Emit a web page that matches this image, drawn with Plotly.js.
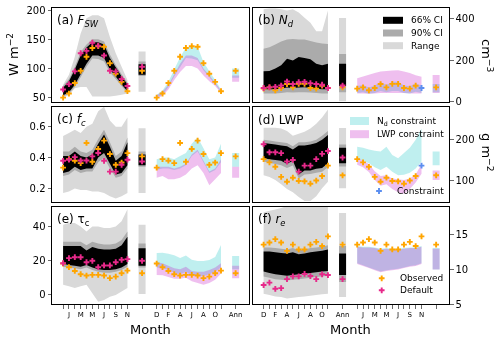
<!DOCTYPE html>
<html>
<head>
<meta charset="utf-8">
<script src="https://cdn.plot.ly/plotly-3.0.1.min.js"></script>
<style>
  html, body { margin: 0; padding: 0; background: #fff; }
  #chart { width: 500px; height: 339px; }
  #chart svg { will-change: transform; }
</style>
</head>
<body>
<div id="chart"></div>
<script>
// ---- categories ----
const monthLetters = ['D', 'J', 'F', 'M', 'A', 'M', 'J', 'J', 'A', 'S', 'O', 'N'];

// ---- (a) F_SW, W m-2 ----
const obsA = [50, 57, 75, 96, 120, 135, 138, 137, 109, 91, 77, 61];
const defA = [64, 73, 95, 126, 130, 144, 139, 122, 96, 95, 82, 70];
const ci66LoA = [54, 59, 72, 90, 108, 122, 122, 118, 98, 86, 73, 61];
const ci66HiA = [67, 78, 98, 122, 136, 145, 145, 141, 118, 102, 86, 73];
const ci90LoA = [52, 57, 68, 85, 103, 117, 116, 112, 93, 82, 70, 58];
const ci90HiA = [70, 82, 103, 128, 141, 150, 150, 146, 124, 106, 90, 76];
const rngLoA = [50, 54, 66, 68, 68, 52, 52, 52, 52, 53, 55, 57];
const rngHiA = [72, 89, 120, 160, 186, 191, 191, 186, 154, 126, 103, 80];
const ndLoA = [50, 55, 68, 86, 102, 118, 117, 114, 97, 85, 73, 59];
const ndHiA = [55, 62, 77, 98, 119, 136, 138, 137, 111, 95, 80, 64];
const lwpLoA = [48, 53, 64, 80, 94, 104, 104, 100, 88, 78, 70, 58];
const lwpHiA = [54, 60, 72, 90, 108, 122, 122, 118, 100, 88, 76, 62];
// annual: [observed, default], bands as [lo, hi]
const annPtsA = [96, 103];
const annRngA = [60, 129], annCi90A = [87, 112], annCi66A = [89, 107];
const annNdA = [84, 100], annLwpA = [77, 88];

// ---- (b) N_d, cm-3 ----
const obsB = [63, 69, 55, 66, 85, 69, 86, 86, 66, 63, 77, 66];
const defB = [66, 69, 72, 78, 97, 85, 94, 96, 89, 85, 82, 66];
const ci66LoB = [60, 60, 60, 62, 68, 66, 68, 70, 66, 62, 60, 60];
const ci66HiB = [147, 148, 160, 176, 207, 199, 215, 210, 204, 183, 176, 183];
const ci90LoB = [40, 40, 40, 42, 45, 44, 45, 46, 44, 42, 40, 40];
const ci90HiB = [255, 262, 275, 290, 300, 302, 300, 300, 292, 285, 280, 278];
const rngLoB = [8, 8, 8, 8, 8, 8, 8, 8, 8, 8, 8, 8];
const rngHiB = [445, 450, 450, 445, 440, 445, 430, 405, 380, 340, 340, 440];
const ndLoB = [42, 45, 38, 42, 52, 45, 52, 52, 42, 40, 48, 42];
const ndHiB = [76, 80, 68, 78, 95, 80, 96, 96, 78, 75, 88, 78];
const lwpLoB = [40, 40, 38, 40, 42, 42, 42, 42, 42, 40, 40, 40];
const lwpHiB = [113, 122, 130, 138, 145, 148, 150, 152, 145, 138, 128, 120];
const annPtsB = [69, 78];
const annRngB = [2, 403], annCi90B = [45, 230], annCi66B = [76, 183];
const annNdB = [45, 85], annLwpB = [42, 129];

// ---- (c) f_c ----
const obsC = [0.335, 0.39, 0.38, 0.364, 0.495, 0.373, 0.456, 0.51, 0.423, 0.353, 0.368, 0.429];
const defC = [0.379, 0.386, 0.403, 0.381, 0.381, 0.408, 0.43, 0.379, 0.309, 0.309, 0.353, 0.386];
const ci66LoC = [0.30, 0.31, 0.34, 0.32, 0.33, 0.33, 0.40, 0.43, 0.36, 0.29, 0.30, 0.35];
const ci66HiC = [0.41, 0.41, 0.44, 0.41, 0.40, 0.42, 0.49, 0.55, 0.47, 0.38, 0.41, 0.50];
const ci90LoC = [0.28, 0.29, 0.32, 0.30, 0.31, 0.31, 0.37, 0.40, 0.33, 0.27, 0.28, 0.33];
const ci90HiC = [0.44, 0.44, 0.47, 0.44, 0.43, 0.45, 0.52, 0.58, 0.50, 0.41, 0.44, 0.53];
const rngLoC = [0.17, 0.18, 0.20, 0.19, 0.19, 0.18, 0.18, 0.17, 0.15, 0.135, 0.15, 0.17];
const rngHiC = [0.54, 0.56, 0.58, 0.56, 0.60, 0.62, 0.70, 0.73, 0.64, 0.60, 0.60, 0.66];
const ndLoC = [0.32, 0.33, 0.33, 0.32, 0.33, 0.35, 0.41, 0.44, 0.37, 0.30, 0.32, 0.37];
const ndHiC = [0.39, 0.40, 0.40, 0.39, 0.41, 0.43, 0.49, 0.53, 0.46, 0.39, 0.40, 0.49];
const lwpLoC = [0.27, 0.28, 0.26, 0.26, 0.27, 0.29, 0.33, 0.35, 0.30, 0.22, 0.26, 0.30];
const lwpHiC = [0.34, 0.34, 0.34, 0.33, 0.34, 0.36, 0.42, 0.45, 0.38, 0.31, 0.33, 0.39];
const annPtsC = [0.408, 0.375];
const annRngC = [0.17, 0.59], annCi90C = [0.34, 0.44], annCi66C = [0.35, 0.42];
const annNdC = [0.34, 0.43], annLwpC = [0.27, 0.34];

// ---- (d) LWP, g m-2 ----
const obsD = [152, 144, 133, 108, 96, 106, 98, 97, 91, 99, 110, 136];
const defD = [189, 169, 169, 167, 146, 150, 121, 136, 136, 152, 165, 172];
const ci66LoD = [154, 152, 150, 148, 140, 148, 114, 124, 124, 128, 130, 142];
const ci66HiD = [192, 190, 188, 186, 184, 176, 186, 186, 188, 192, 200, 212];
const ci90LoD = [146, 143, 140, 137, 130, 136, 104, 114, 115, 118, 121, 132];
const ci90HiD = [200, 198, 196, 194, 192, 184, 194, 194, 196, 200, 210, 222];
const rngLoD = [112, 108, 100, 90, 78, 70, 58, 48, 48, 60, 80, 96];
const rngHiD = [230, 230, 230, 228, 222, 210, 215, 220, 228, 240, 255, 275];
const ndLoD = [154, 148, 142, 132, 125, 133, 121, 112, 113, 118, 129, 146];
const ndHiD = [183, 180, 176, 173, 171, 183, 162, 154, 167, 180, 200, 228];
const lwpLoD = [138, 132, 120, 100, 86, 90, 78, 70, 66, 78, 94, 116];
const lwpHiD = [156, 148, 140, 122, 110, 112, 104, 102, 100, 104, 114, 140];
const annPtsD = [112, 156];
const annRngD = [80, 229], annCi90D = [134, 188], annCi66D = [142, 180];
const annNdD = [137, 171], annLwpD = [100, 124];

// ---- (e) tau_c ----
const obsE = [18.3, 16.2, 14, 12.1, 11.3, 11.7, 11.7, 11.3, 9.8, 10.7, 12.7, 14.2];
const defE = [18.5, 21.5, 22, 22, 19.1, 19.9, 16.2, 17.2, 17.2, 19.1, 20.5, 20.9];
const ci66LoE = [18, 17.5, 17, 16.5, 17.5, 16, 15, 14.5, 14.5, 15, 16, 18];
const ci66HiE = [28.5, 28.5, 28.5, 28.5, 26, 28, 27, 26.5, 26.5, 27, 29, 34];
const ci90LoE = [16.5, 16, 15.5, 15, 16, 14.5, 13.5, 13, 13, 13.5, 14.5, 16.5];
const ci90HiE = [31, 31, 31, 31, 29, 31, 30, 29.5, 29.5, 30, 32, 37];
const rngLoE = [6, 5, 4, 5, 6, 1, -4, -3, -1, 0, 2, 4];
const rngHiE = [41, 42, 42, 40, 37, 40, 40, 39, 39, 40, 43, 50];
const ndLoE = [16, 15.5, 14.5, 13, 12, 13.5, 11.5, 11, 11, 12, 13.5, 16];
const ndHiE = [24.4, 24.6, 24.0, 23.2, 21.5, 23.0, 20.5, 19.8, 19.8, 20.4, 22.2, 29.1];
const lwpLoE = [11.7, 11.5, 10.5, 9.5, 9.5, 10, 8, 6.9, 6, 7, 8.8, 12.5];
const lwpHiE = [19, 18.5, 17, 15.5, 15, 16.5, 14, 13.5, 13.5, 14.5, 16, 18.5];
const annPtsE = [12.7, 19.9];
const annRngE = [0.5, 41], annCi90E = [16, 30], annCi66E = [17, 27.3];
const annNdE = [15, 22.7], annLwpE = [9.8, 17];

// ---- (f) r_e ----
const obsF = [13.6, 13.9, 14.4, 13.9, 12.7, 13.6, 12.9, 12.9, 13.6, 14.0, 13.4, 14.8];
const defF = [7.75, 8.1, 7.2, 7.3, 8.6, 9.0, 9.0, 9.35, 9.05, 8.6, 9.3, 9.2];
const ci66LoF = [9.7, 9.5, 9.3, 9.2, 9.1, 9.2, 9.3, 9.4, 9.5, 9.6, 9.7, 9.8];
const ci66HiF = [12.6, 12.6, 12.5, 12.4, 12.3, 12.5, 12.2, 12.3, 12.5, 12.6, 12.7, 12.9];
const ci90LoF = [9.0, 8.8, 8.6, 8.5, 8.4, 8.5, 8.6, 8.7, 8.8, 8.9, 9.0, 9.1];
const ci90HiF = [13.2, 13.2, 13.1, 13.0, 12.9, 13.1, 12.8, 12.9, 13.1, 13.2, 13.3, 13.5];
const rngLoF = [6.5, 6.3, 6.1, 6.0, 5.8, 5.9, 6.0, 6.1, 6.2, 6.3, 6.4, 6.5];
const rngHiF = [18.3, 18.5, 18.7, 18.9, 19.2, 19.2, 19.2, 19.2, 19.2, 19.2, 19.2, 19.2];
const ndLoF = [10.9, 10.6, 10.3, 10.0, 9.7, 9.9, 10.0, 10.1, 10.3, 10.5, 10.6, 10.9];
const ndHiF = [13.4, 13.3, 13.3, 13.2, 13.0, 13.1, 13.0, 13.0, 13.1, 13.2, 13.2, 13.4];
const lwpLoF = [10.8, 10.5, 10.2, 9.9, 9.6, 9.8, 9.9, 10.0, 10.2, 10.4, 10.5, 10.8];
const lwpHiF = [13.3, 13.2, 13.2, 13.1, 12.9, 13.0, 12.9, 12.9, 13.0, 13.1, 13.1, 13.3];
const annPtsF = [13.6, 8.6];
const annRngF = [6, 18.2], annCi90F = [8.2, 13.4], annCi66F = [9.2, 12.3];
const annNdF = [10.0, 13.1], annLwpF = [10.0, 13.0];

// month used as constraint (drawn blue in b and d)
const constraintMonth = 11;

// ---- geometry / styles ----
const W = 500, H = 339;
const X_RANGE = [-1.9, 31.7];
const ANN1 = 13.5, GRP2 = 16, ANN2 = 29.5, BOXW = 0.6;
const colX = [[52, 248.5], [252.5, 449]];
const rowY = [[8.3, 101.7], [106.7, 202.3], [206.7, 304]];
const COL = {
    range: '#d9d9d9', ci90: '#ababab', ci66: '#000000',
    nd: 'rgba(0,191,191,0.25)', lwp: 'rgba(191,0,191,0.25)',
    obs: '#ffa500', def: '#e7298a', con: '#5b8ef0'
};
const MK = 4.8;

const pos1 = monthLetters.map((m, i) => i);
const pos2 = pos1.map(i => i + GRP2);
const tickVals = [...pos1, ANN1, ...pos2, ANN2];
const oddLab = monthLetters.map((m, i) => i % 2 === 1 ? m : '');
const evenLab = monthLetters.map((m, i) => i % 2 === 0 ? m : '');
const leftText = [...oddLab, '', ...evenLab, 'Ann'];
const rightText = [...evenLab, 'Ann', ...oddLab, ''];

const panels = [
    { label: '(a) <i>F</i><sub><i>SW</i></sub>', yr: [43, 203], yt: [50, 100, 150, 200],
      obs: obsA, def: defA, ci66: [ci66LoA, ci66HiA], ci90: [ci90LoA, ci90HiA], rng: [rngLoA, rngHiA],
      nd: [ndLoA, ndHiA], lwp: [lwpLoA, lwpHiA], annPts: annPtsA,
      annRng: annRngA, annCi90: annCi90A, annCi66: annCi66A, annNd: annNdA, annLwp: annLwpA },
    { label: '(b) <i>N</i><sub><i>d</i></sub>', yr: [0, 450], yt: [0, 200, 400],
      obs: obsB, def: defB, ci66: [ci66LoB, ci66HiB], ci90: [ci90LoB, ci90HiB], rng: [rngLoB, rngHiB],
      nd: [ndLoB, ndHiB], lwp: [lwpLoB, lwpHiB], annPts: annPtsB, constraint: true,
      annRng: annRngB, annCi90: annCi90B, annCi66: annCi66B, annNd: annNdB, annLwp: annLwpB },
    { label: '(c) <i>f</i><sub><i>c</i></sub>', yr: [0.11, 0.73], yt: [0.2, 0.4, 0.6],
      obs: obsC, def: defC, ci66: [ci66LoC, ci66HiC], ci90: [ci90LoC, ci90HiC], rng: [rngLoC, rngHiC],
      nd: [ndLoC, ndHiC], lwp: [lwpLoC, lwpHiC], annPts: annPtsC,
      annRng: annRngC, annCi90: annCi90C, annCi66: annCi66C, annNd: annNdC, annLwp: annLwpC },
    { label: '(d) LWP', yr: [45, 282], yt: [100, 200],
      obs: obsD, def: defD, ci66: [ci66LoD, ci66HiD], ci90: [ci90LoD, ci90HiD], rng: [rngLoD, rngHiD],
      nd: [ndLoD, ndHiD], lwp: [lwpLoD, lwpHiD], annPts: annPtsD, constraint: true,
      annRng: annRngD, annCi90: annCi90D, annCi66: annCi66D, annNd: annNdD, annLwp: annLwpD },
    { label: '(e) τ<sub>c</sub>', yr: [-5.3, 51.5], yt: [0, 20, 40],
      obs: obsE, def: defE, ci66: [ci66LoE, ci66HiE], ci90: [ci90LoE, ci90HiE], rng: [rngLoE, rngHiE],
      nd: [ndLoE, ndHiE], lwp: [lwpLoE, lwpHiE], annPts: annPtsE,
      annRng: annRngE, annCi90: annCi90E, annCi66: annCi66E, annNd: annNdE, annLwp: annLwpE },
    { label: '(f) <i>r</i><sub><i>e</i></sub>', yr: [5, 19.1], yt: [5, 10, 15],
      obs: obsF, def: defF, ci66: [ci66LoF, ci66HiF], ci90: [ci90LoF, ci90HiF], rng: [rngLoF, rngHiF],
      nd: [ndLoF, ndHiF], lwp: [lwpLoF, lwpHiF], annPts: annPtsF,
      annRng: annRngF, annCi90: annCi90F, annCi66: annCi66F, annNd: annNdF, annLwp: annLwpF }
];

// filled band between lo and hi
const band = (xs, lo, hi, color, xa, ya) => ({
    type: 'scatter', mode: 'none', fill: 'toself', fillcolor: color,
    x: [...xs, ...xs.slice().reverse()],
    y: [...hi, ...lo.slice().reverse()],
    xaxis: xa, yaxis: ya, hoverinfo: 'skip', showlegend: false
});
// annual box centred on xc
const box = (xc, lh, color, xa, ya) =>
    band([xc - BOXW, xc + BOXW], [lh[0], lh[0]], [lh[1], lh[1]], color, xa, ya);
const pts = (xs, ys, color, xa, ya) => ({
    type: 'scatter', mode: 'markers', x: xs, y: ys, xaxis: xa, yaxis: ya,
    marker: { symbol: 'cross', size: MK, color: color, line: { width: 0 } },
    hoverinfo: 'x+y', showlegend: false
});

const traces = [];
const layout = {
    width: W, height: H,
    margin: { l: 0, r: 0, t: 0, b: 0 },
    paper_bgcolor: '#ffffff', plot_bgcolor: 'rgba(0,0,0,0)',
    font: { family: 'DejaVu Sans', size: 10, color: '#000' },
    showlegend: false,
    annotations: [], shapes: []
};

panels.forEach((p, k) => {
    const row = Math.floor(k / 2), col = k % 2;
    const sfx = k === 0 ? '' : String(k + 1);
    const xa = 'x' + sfx, ya = 'y' + sfx;
    const bottom = row === 2;

    layout['xaxis' + sfx] = {
        domain: [colX[col][0] / W, colX[col][1] / W],
        range: X_RANGE, anchor: ya,
        showgrid: false, zeroline: false,
        showline: true, mirror: true, linecolor: '#000', linewidth: 1,
        tickmode: 'array', tickvals: tickVals,
        ticktext: col === 0 ? leftText : rightText,
        ticks: bottom ? 'outside' : '', ticklen: 3.5, tickwidth: 0.8,
        showticklabels: bottom, tickangle: 0,
        tickfont: { size: 7, color: '#000' }, fixedrange: true
    };
    layout['yaxis' + sfx] = {
        domain: [1 - rowY[row][1] / H, 1 - rowY[row][0] / H],
        range: p.yr, anchor: xa, side: col === 0 ? 'left' : 'right',
        tickmode: 'array', tickvals: p.yt,
        ticks: 'outside', ticklen: 3.5, tickwidth: 0.8,
        showgrid: false, zeroline: false,
        showline: true, mirror: true, linecolor: '#000', linewidth: 1,
        tickfont: { size: 10 }, fixedrange: true
    };

    // model spread, monthly + annual
    traces.push(band(pos1, p.rng[0], p.rng[1], COL.range, xa, ya));
    traces.push(band(pos1, p.ci90[0], p.ci90[1], COL.ci90, xa, ya));
    traces.push(band(pos1, p.ci66[0], p.ci66[1], COL.ci66, xa, ya));
    traces.push(box(ANN1, p.annRng, COL.range, xa, ya));
    traces.push(box(ANN1, p.annCi90, COL.ci90, xa, ya));
    traces.push(box(ANN1, p.annCi66, COL.ci66, xa, ya));

    // constrained ranges
    traces.push(band(pos2, p.nd[0], p.nd[1], COL.nd, xa, ya));
    traces.push(band(pos2, p.lwp[0], p.lwp[1], COL.lwp, xa, ya));
    traces.push(box(ANN2, p.annNd, COL.nd, xa, ya));
    traces.push(box(ANN2, p.annLwp, COL.lwp, xa, ya));

    // observed + default markers
    traces.push(pts([...pos1, ANN1], [...p.obs, p.annPts[0]], COL.obs, xa, ya));
    traces.push(pts([...pos1, ANN1], [...p.def, p.annPts[1]], COL.def, xa, ya));
    const o2x = [...pos2, ANN2], o2y = [...p.obs, p.annPts[0]];
    if (p.constraint) {
        traces.push(pts(o2x.filter((v, i) => i !== constraintMonth), o2y.filter((v, i) => i !== constraintMonth), COL.obs, xa, ya));
        traces.push(pts([pos2[constraintMonth]], [p.obs[constraintMonth]], COL.con, xa, ya));
    } else {
        traces.push(pts(o2x, o2y, COL.obs, xa, ya));
    }

    layout.annotations.push({
        xref: 'paper', yref: 'paper', showarrow: false,
        x: (colX[col][0] + 3) / W, y: 1 - (rowY[row][0] + 13) / H,
        xanchor: 'left', yanchor: 'middle',
        text: p.label, font: { size: 12 }
    });
});

// helpers for paper coordinates from pixels
const px = v => v / W, py = v => 1 - v / H;
const note = (x, y, text, opts) => Object.assign({
    xref: 'paper', yref: 'paper', showarrow: false, x: px(x), y: py(y),
    xanchor: 'left', yanchor: 'middle', text: text, font: { size: 9 }
}, opts || {});

// axis titles
layout.annotations.push(note(13, 55, 'W m<sup>−2</sup>', { xanchor: 'center', textangle: -90, font: { size: 13 } }));
layout.annotations.push(note(487, 55, 'cm<sup>−3</sup>', { xanchor: 'center', textangle: 90, font: { size: 13 } }));
layout.annotations.push(note(487, 152, 'g m<sup>−2</sup>', { xanchor: 'center', textangle: 90, font: { size: 13 } }));
layout.annotations.push(note(150, 329, 'Month', { xanchor: 'center', font: { size: 13 } }));
layout.annotations.push(note(350, 329, 'Month', { xanchor: 'center', font: { size: 13 } }));

// legend (b): grey spreads
const patch = (x0, x1, yc, h, color) => ({
    type: 'rect', xref: 'paper', yref: 'paper', layer: 'above',
    x0: px(x0), x1: px(x1), y0: py(yc + h / 2), y1: py(yc - h / 2),
    fillcolor: color, line: { width: 0 }
});
[['66% CI', COL.ci66, 20.3], ['90% CI', COL.ci90, 33], ['Range', COL.range, 45.7]].forEach(([t, c, y]) => {
    layout.shapes.push(patch(383, 403, y, 7, c));
    layout.annotations.push(note(409, y, t));
});
// legend (d): constraints
[['N<sub>d</sub> constraint', COL.nd, 121], ['LWP constraint', COL.lwp, 134.2]].forEach(([t, c, y]) => {
    layout.shapes.push(patch(350, 369, y, 8, c));
    layout.annotations.push(note(375, y, t));
});
layout.annotations.push(note(395, 191, 'Constraint'));
layout.annotations.push(note(397.5, 278.3, 'Observed'));
layout.annotations.push(note(397.5, 290.3, 'Default'));

// legend keys for markers on a full-figure pixel overlay
layout.xaxis7 = { domain: [0, 1], range: [0, W], visible: false, anchor: 'y7', fixedrange: true };
layout.yaxis7 = { domain: [0, 1], range: [H, 0], visible: false, anchor: 'x7', fixedrange: true };
traces.push(pts([379], [191], COL.con, 'x7', 'y7'));
traces.push(pts([381.7], [278.3], COL.obs, 'x7', 'y7'));
traces.push(pts([381.7], [290.3], COL.def, 'x7', 'y7'));

Plotly.newPlot('chart', traces, layout, { staticPlot: true, displayModeBar: false });
</script>
</body>
</html>
